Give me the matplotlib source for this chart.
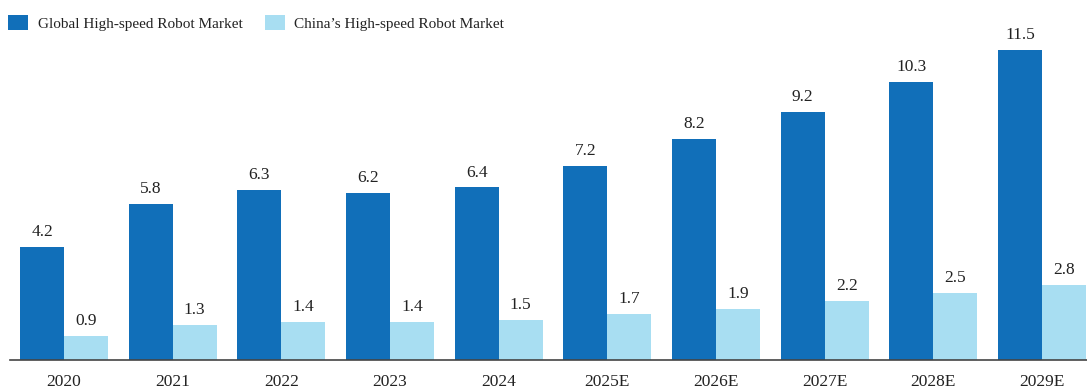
import matplotlib
matplotlib.use("Agg")
import matplotlib.pyplot as plt
from matplotlib.patches import Patch
import numpy as np

categories = ["2020", "2021", "2022", "2023", "2024", "2025E", "2026E", "2027E", "2028E", "2029E"]
global_vals = [4.2, 5.8, 6.3, 6.2, 6.4, 7.2, 8.2, 9.2, 10.3, 11.5]
china_vals = [0.9, 1.3, 1.4, 1.4, 1.5, 1.7, 1.9, 2.2, 2.5, 2.8]
series_names = ["Global High-speed Robot Market", "China\u2019s High-speed Robot Market"]

c_global = "#116FB9"
c_china = "#A8DEF2"

plt.rcParams['font.family'] = ['Liberation Serif', 'DejaVu Serif']

W, H = 1087, 389
fig = plt.figure(figsize=(W / 100, H / 100), dpi=100)
ax = fig.add_axes([10 / W, (H - 360) / H, (W - 10) / W, 360 / H])

x = np.arange(len(categories))
bw = 0.405
b1 = ax.bar(x - bw / 2, global_vals, bw, color=c_global)
b2 = ax.bar(x + bw / 2, china_vals, bw, color=c_china)

for bars, vals in ((b1, global_vals), (b2, china_vals)):
    for rect, v in zip(bars, vals):
        ax.annotate(f"{v:.1f}", (rect.get_x() + rect.get_width() / 2, v),
                    xytext=(0, 5), textcoords="offset points",
                    ha="center", va="bottom", fontsize=12.5, color="#222222")

ax.set_xlim(-0.497, 9.414)
ax.set_ylim(0, 360 / 26.96)
ax.set_xticks(x)
ax.set_xticklabels(categories, fontsize=12.5, color="#222222")
ax.tick_params(axis="x", length=0, pad=10)
ax.set_yticks([])
for s in ("top", "right", "left"):
    ax.spines[s].set_visible(False)
ax.spines["bottom"].set_color("#444444")
ax.spines["bottom"].set_linewidth(1.2)

handles = [Patch(facecolor=c_global), Patch(facecolor=c_china)]
fig.legend(handles, series_names, loc="upper left", bbox_to_anchor=(-0.003, 0.99),
           ncol=2, frameon=False, fontsize=11, handlelength=1.31, handleheight=1.05,
           handletextpad=0.62, columnspacing=1.45, borderaxespad=0.3, borderpad=0.45,
           labelcolor="#222222")

fig.savefig("out.png", dpi=100)
